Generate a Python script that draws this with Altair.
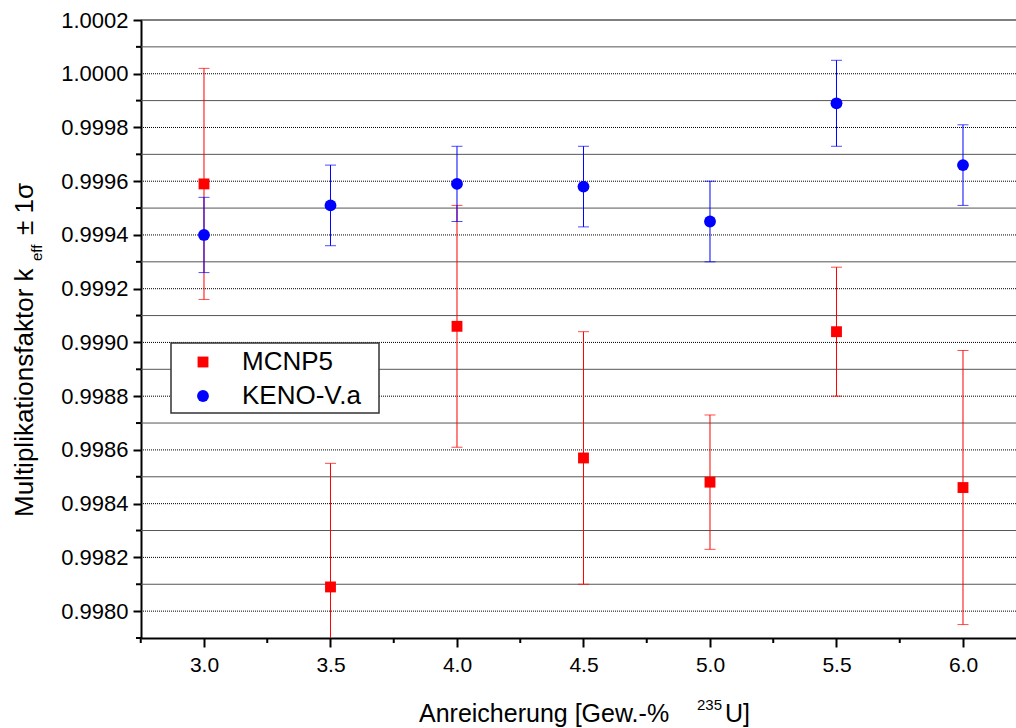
import altair as alt
import pandas as pd

# ---------------- data ----------------
enrich = [3.0, 3.5, 4.0, 4.5, 5.0, 5.5, 6.0]
mcnp_k = [0.99959, 0.99809, 0.99906, 0.99857, 0.99848, 0.99904, 0.99846]
mcnp_s = [0.00043, 0.00046, 0.00045, 0.00047, 0.00025, 0.00024, 0.00051]
keno_k = [0.99940, 0.99951, 0.99959, 0.99958, 0.99945, 0.99989, 0.99966]
keno_s = [0.00014, 0.00015, 0.00014, 0.00015, 0.00015, 0.00016, 0.00015]

y_major = [0.9980, 0.9982, 0.9984, 0.9986, 0.9988, 0.9990,
           0.9992, 0.9994, 0.9996, 0.9998, 1.0000, 1.0002]
y_minor = [0.9979, 0.9981, 0.9983, 0.9985, 0.9987, 0.9989,
           0.9991, 0.9993, 0.9995, 0.9997, 0.9999, 1.0001]
y_grid_dotted = [0.9980, 0.9982, 0.9984, 0.9986, 0.9988, 0.9990,
                 0.9992, 0.9994, 0.9996, 0.9998, 1.0000]
y_grid_solid = [0.9981, 0.9983, 0.9985, 0.9987, 0.9989,
                0.9991, 0.9993, 0.9995, 0.9997, 0.9999, 1.0001]
y_top = [1.0002]
x_major = [3.0, 3.5, 4.0, 4.5, 5.0, 5.5, 6.0]
x_minor = [2.75, 3.25, 3.75, 4.25, 4.75, 5.25, 5.75]

series_names = ["MCNP5", "KENO-V.a"]
x_domain = [2.751, 6.2095]
y_domain = [0.9979, 1.0002]

FONT = "Liberation Sans"
W, H = 875, 618

def mk(k, s):
    return pd.DataFrame({
        "x": enrich, "k": k,
        "lo": [a - b for a, b in zip(k, s)],
        "hi": [a + b for a, b in zip(k, s)],
    })

mc = mk(mcnp_k, mcnp_s)
ke = mk(keno_k, keno_s)

xs = alt.Scale(domain=x_domain, nice=False, zero=False)
ys = alt.Scale(domain=y_domain, nice=False, zero=False)

AX_Y = alt.Axis(
    values=y_major, format=".4f", title=None, grid=False,
    tickSize=8, tickWidth=2, tickColor="black",
    domainWidth=2, domainColor="black",
    labelFont=FONT, labelFontSize=22, labelColor="black", labelPadding=5,
)
AX_X = alt.Axis(
    values=x_major, format=".1f", title=None, grid=False,
    tickSize=9, tickWidth=2, tickColor="black",
    domainWidth=2, domainColor="black",
    labelFont=FONT, labelFontSize=21, labelColor="black", labelPadding=7,
)

def XQ(f):
    return alt.X(f, scale=xs, axis=AX_X)

def YQ(f):
    return alt.Y(f, scale=ys, axis=AX_Y)

one = pd.DataFrame({"a": [0]})

# grid lines
grid_dot = alt.Chart(pd.DataFrame({"v": y_grid_dotted})).mark_rule(
    color="#000000", strokeWidth=1, strokeDash=[1, 1]
).encode(y=YQ("v:Q"), x=alt.value(0), x2=alt.value(W))

grid_sol = alt.Chart(pd.DataFrame({"v": y_grid_solid})).mark_rule(
    color="#555555", strokeWidth=1
).encode(y=YQ("v:Q"), x=alt.value(0), x2=alt.value(W))

top_line = alt.Chart(pd.DataFrame({"v": y_top})).mark_rule(
    color="#000000", strokeWidth=1
).encode(y=YQ("v:Q"), x=alt.value(0), x2=alt.value(W))

# minor ticks
y_minor_t = alt.Chart(pd.DataFrame({"v": y_minor})).mark_rule(
    color="black", strokeWidth=2
).encode(y=YQ("v:Q"), x=alt.value(-5), x2=alt.value(0))
x_minor_t = alt.Chart(pd.DataFrame({"v": x_minor})).mark_rule(
    color="black", strokeWidth=2
).encode(x=XQ("v:Q"), y=alt.value(H), y2=alt.value(H + 5))

def errlayers(df, color):
    base = alt.Chart(df)
    bar = base.mark_rule(color=color, strokeWidth=1, clip=True).encode(
        x=XQ("x:Q"), y=YQ("lo:Q"), y2="hi:Q")
    cap_lo = base.mark_tick(color=color, thickness=1, size=11, orient="horizontal", clip=True).encode(
        x=XQ("x:Q"), y=YQ("lo:Q"))
    cap_hi = base.mark_tick(color=color, thickness=1, size=11, orient="horizontal", clip=True).encode(
        x=XQ("x:Q"), y=YQ("hi:Q"))
    return [bar, cap_lo, cap_hi]

mc_pts = alt.Chart(mc).mark_point(shape="square", filled=True, color="#ff0000",
                                  size=118, opacity=1).encode(x=XQ("x:Q"), y=YQ("k:Q"))
ke_pts = alt.Chart(ke).mark_point(shape="circle", filled=True, color="#0000ff",
                                  size=140, opacity=1).encode(x=XQ("x:Q"), y=YQ("k:Q"))

# legend box
leg_box = alt.Chart(one).mark_rect(fill="white", stroke="#333333", strokeWidth=1.5).encode(
    x=alt.value(30), x2=alt.value(238), y=alt.value(323), y2=alt.value(393))
leg_sq = alt.Chart(one).mark_point(shape="square", filled=True, color="#ff0000",
                                   size=118, opacity=1).encode(x=alt.value(62), y=alt.value(342))
leg_ci = alt.Chart(one).mark_point(shape="circle", filled=True, color="#0000ff",
                                   size=140, opacity=1).encode(x=alt.value(62), y=alt.value(376))
leg_t1 = alt.Chart(one).mark_text(text=series_names[0], font=FONT, fontSize=26, align="left",
                                  baseline="middle", color="black").encode(
    x=alt.value(101), y=alt.value(342))
leg_t2 = alt.Chart(one).mark_text(text=series_names[1], font=FONT, fontSize=26, align="left",
                                  baseline="middle", color="black").encode(
    x=alt.value(101), y=alt.value(376))

# axis titles (with sub/superscripts)
def txt(s, x, y, size, angle=0):
    kw = dict(text=s, font=FONT, fontSize=size, align="left", baseline="alphabetic", color="black")
    if angle:
        kw["angle"] = angle
    return alt.Chart(one).mark_text(**kw).encode(x=alt.value(x), y=alt.value(y))

yt1 = txt("Multiplikationsfaktor k", -108, 497, 26, 270)
yt2 = txt("eff", -99, 241, 15, 270)
yt3 = txt("\u00b1 1\u03c3", -108, 215, 26, 270)
xt1 = txt("Anreicherung [Gew.-% ", 278, 702, 25)
xt2 = txt("235", 556, 690, 15)
xt3 = txt("U]", 584, 702, 25)

layers = [grid_sol, grid_dot, top_line]
layers += errlayers(mc, "#ff0000")
layers += [mc_pts]
layers += errlayers(ke, "#0000ff")
layers += [ke_pts]
layers += [x_minor_t, y_minor_t]
layers += [leg_box, leg_sq, leg_ci, leg_t1, leg_t2]
layers += [yt1, yt2, yt3, xt1, xt2, xt3]

chart = alt.layer(*layers).properties(
    width=W, height=H,
    autosize=alt.AutoSizeParams(type="none"),
    padding={"left": 141, "top": 20, "right": 0, "bottom": 90},
    background="white",
).configure_view(stroke=None)

chart.save("out.html", embed_options={"renderer": "svg", "actions": False})
